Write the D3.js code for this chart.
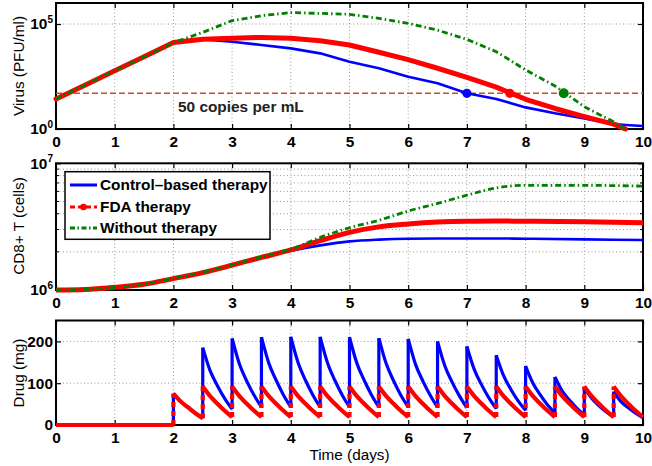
<!DOCTYPE html>
<html>
<head>
<meta charset="utf-8">
<script src="https://cdn.jsdelivr.net/npm/d3@7"></script>
<style>
  body { margin: 0; background: #fff; }
  svg { display: block; }
</style>
</head>
<body>
<div id="chart"></div>
<script>
// ---- virus load (PFU/ml) ----
const virusDays = [0, 0.5, 1, 1.5, 2, 2.5, 3, 3.5, 4, 4.5, 5, 5.5, 6, 6.5, 7, 7.5, 8, 8.5, 9, 9.5, 9.7, 10];
const virusControl = [27, 126, 590, 2750, 1.3e4, 1.86e4, 1.44e4, 1.0e4, 6.9e3, 4.0e3, 1.6e3, 780, 310, 150, 50, 27, 10.7, 5.6, 3.2, 1.7, 1.55, 1.4];
const virusFDA = [27, 126, 590, 2750, 1.3e4, 1.9e4, 2.1e4, 2.3e4, 2.1e4, 1.6e4, 1.0e4, 4.5e3, 2.0e3, 780, 290, 98, 26, 9.5, 3.9, 1.7, 1.0, null];
const virusNone = [27, 126, 590, 2750, 1.3e4, 4.0e4, 1.45e5, 2.5e5, 3.5e5, 3.2e5, 2.9e5, 1.86e5, 1.07e5, 5.1e4, 1.86e4, 4.8e3, 650, 112, 11.5, 2.2, 1.0, null];
const detectionLimit = 50;
const crossDays = [7.0, 7.73, 8.65]; // control, FDA, without

// ---- CD8+ T cells (millions) ----
const cd8Days = [0, 0.5, 1, 1.5, 2, 2.5, 3, 3.5, 4, 4.5, 5, 5.5, 6, 6.5, 7, 7.5, 8, 9, 10];
const cd8Control = [1.0, 1.01, 1.05, 1.11, 1.23, 1.37, 1.56, 1.8, 2.04, 2.25, 2.42, 2.5, 2.54, 2.55, 2.55, 2.55, 2.54, 2.51, 2.48];
const cd8FDA = [1.0, 1.01, 1.05, 1.11, 1.23, 1.37, 1.57, 1.81, 2.07, 2.45, 2.85, 3.15, 3.32, 3.44, 3.49, 3.5, 3.49, 3.45, 3.39];
const cd8None = [1.0, 1.01, 1.05, 1.11, 1.24, 1.38, 1.58, 1.83, 2.1, 2.6, 3.1, 3.55, 4.2, 4.82, 5.6, 6.4, 6.7, 6.7, 6.6];

// ---- drug (mg): one row per dose, sampled at the offsets below ----
const dosingDays = [2, 2.5, 3, 3.5, 4, 4.5, 5, 5.5, 6, 6.5, 7, 7.5, 8, 8.5, 9, 9.5];
const sampleOffsets = [0, 0.125, 0.25, 0.375, 0.5];
const drugControl = [
  [75, 56, 42, 28, 16],
  [185, 130, 94, 63, 38],
  [207, 146, 105, 71, 43],
  [210, 148, 107, 72, 43],
  [211, 149, 107, 72, 43],
  [211, 149, 107, 72, 43],
  [210, 148, 107, 72, 43],
  [208, 147, 106, 71, 43],
  [206, 145, 105, 71, 42],
  [200, 141, 102, 69, 41],
  [188, 133, 96, 65, 39],
  [167, 118, 85, 57, 35],
  [141, 100, 72, 48, 29],
  [115, 81, 59, 40, 24],
  [90, 64, 46, 31, 19],
  [80, 56, 41, 28, 17]
];
const drugFDA = [
  [75, 56, 42, 28, 16],
  [92, 69, 51, 34, 19],
  [92, 69, 51, 34, 19],
  [92, 69, 51, 34, 19],
  [92, 69, 51, 34, 19],
  [92, 69, 51, 34, 19],
  [92, 69, 51, 34, 19],
  [92, 69, 51, 34, 19],
  [92, 69, 51, 34, 19],
  [92, 69, 51, 34, 19],
  [92, 69, 51, 34, 19],
  [92, 69, 51, 34, 19],
  [92, 69, 51, 34, 19],
  [92, 69, 51, 34, 19],
  [92, 69, 51, 34, 19],
  [92, 69, 51, 34, 19]
];

const dayTicks = [0, 1, 2, 3, 4, 5, 6, 7, 8, 9, 10];
const legendLabels = ["Control\u2013based therapy", "FDA therapy", "Without therapy"];

const FONT = "'Liberation Sans', Arial, Helvetica, sans-serif";
const FS = 15.4;
const BLUE = "#0000ff", RED = "#ff0000", GREEN = "#007f00", BROWN = "#c4521f";

const svg = d3.select("#chart").append("svg")
  .attr("width", 652).attr("height", 466)
  .style("font-family", FONT);

const x = d3.scaleLinear().domain([0, 10]).range([56, 643]);

function panel(y, yTicks, yGrid, fmt, sup) {
  const [yb, yt] = y.range();
  const g = svg.append("g");

  // dotted grid
  const grid = g.append("g").attr("stroke", "#9a9a9a").attr("stroke-dasharray", "1,2.5").attr("stroke-width", 1);
  grid.selectAll("line.gx").data(dayTicks.slice(1, -1)).join("line")
    .attr("x1", d => x(d)).attr("x2", d => x(d)).attr("y1", yb).attr("y2", yt);
  grid.selectAll("line.gy").data(yGrid).join("line")
    .attr("x1", x(0)).attr("x2", x(10)).attr("y1", d => y(d)).attr("y2", d => y(d));

  const style = a => a.attr("font-family", FONT).attr("font-size", FS).attr("font-weight", "bold")
    .call(s => s.select(".domain").remove())
    .call(s => s.selectAll(".tick line").attr("stroke-width", 1.2));

  g.append("g").attr("transform", `translate(0,${yb})`)
    .call(d3.axisBottom(x).tickValues(dayTicks).tickSize(-5).tickPadding(7).tickFormat(d3.format("d")))
    .call(style);
  g.append("g").attr("transform", `translate(0,${yt})`)
    .call(d3.axisTop(x).tickValues(dayTicks).tickSize(-5).tickFormat(""))
    .call(style);
  const left = g.append("g").attr("transform", `translate(${x(0)},0)`)
    .call(d3.axisLeft(y).tickValues(yTicks).tickSize(-5).tickPadding(3).tickFormat(fmt))
    .call(style);
  g.append("g").attr("transform", `translate(${x(10)},0)`)
    .call(d3.axisRight(y).tickValues(yTicks).tickSize(-5).tickFormat(""))
    .call(style);

  if (sup) {
    left.selectAll(".tick text").each(function (d) {
      const t = d3.select(this).text(null);
      t.append("tspan").text("10");
      t.append("tspan").attr("font-size", 10).attr("dy", -6.5).text(Math.round(Math.log10(d)));
    });
  }

  g.append("rect")
    .attr("x", x(0)).attr("y", yt).attr("width", x(10) - x(0)).attr("height", yb - yt)
    .attr("fill", "none").attr("stroke", "#000").attr("stroke-width", 2);
  return g;
}

function yLabel(text, cy) {
  svg.append("text")
    .attr("transform", `translate(19,${cy}) rotate(-90)`)
    .attr("text-anchor", "middle").attr("dy", "0.35em")
    .attr("font-size", 15.3).text(text);
}

// ================= virus panel =================
const yV = d3.scaleLog().domain([1, 1e6]).range([129, 3]);
panel(yV, [1, 1e5], [1e5], d => d, true);
yLabel("Virus (PFU/ml)", 66);

svg.append("line")
  .attr("x1", x(0)).attr("x2", x(10)).attr("y1", yV(detectionLimit)).attr("y2", yV(detectionLimit))
  .attr("stroke", BROWN).attr("stroke-width", 1.5).attr("stroke-dasharray", "6,3");
svg.append("text").attr("x", 178).attr("y", 111.5)
  .attr("font-size", FS).attr("font-weight", "bold").attr("fill", "#222")
  .text("50 copies per mL");

const virusLine = vals => d3.line()
  .defined((d, i) => vals[i] != null)
  .x(d => x(d)).y((d, i) => yV(vals[i]))(virusDays);

svg.append("path").attr("d", virusLine(virusControl))
  .attr("fill", "none").attr("stroke", BLUE).attr("stroke-width", 2.6).attr("stroke-linejoin", "round");
svg.append("path").attr("d", virusLine(virusFDA))
  .attr("fill", "none").attr("stroke", RED).attr("stroke-width", 5)
  .attr("stroke-linecap", "round").attr("stroke-linejoin", "round");
svg.append("path").attr("d", virusLine(virusNone))
  .attr("fill", "none").attr("stroke", GREEN).attr("stroke-width", 2.8).attr("stroke-dasharray", "6,3,1.5,3");

svg.selectAll("circle.cross").data(crossDays).join("circle")
  .attr("cx", d => x(d)).attr("cy", yV(detectionLimit))
  .attr("r", (d, i) => (i === 2 ? 5 : 4.6))
  .attr("fill", (d, i) => [BLUE, RED, GREEN][i]);

// ================= CD8 panel =================
const yC = d3.scaleLog().domain([1e6, 1e7]).range([290, 163.3]);
const cd8Minor = [2e6, 3e6, 4e6, 5e6, 6e6, 7e6, 8e6, 9e6];
const gC = panel(yC, [1e6, 1e7], cd8Minor, d => d, true);
yLabel("CD8+ T (cells)", 226);

// minor ticks on the log axis
gC.selectAll("line.minl").data(cd8Minor).join("line")
  .attr("x1", x(0)).attr("x2", x(0) + 3).attr("y1", d => yC(d)).attr("y2", d => yC(d))
  .attr("stroke", "#000");
gC.selectAll("line.minr").data(cd8Minor).join("line")
  .attr("x1", x(10)).attr("x2", x(10) - 3).attr("y1", d => yC(d)).attr("y2", d => yC(d))
  .attr("stroke", "#000");

const cd8Line = vals => d3.line()
  .x(d => x(d)).y((d, i) => yC(vals[i] * 1e6))
  .curve(d3.curveMonotoneX)(cd8Days);

svg.append("path").attr("d", cd8Line(cd8Control))
  .attr("fill", "none").attr("stroke", BLUE).attr("stroke-width", 2.6);
svg.append("path").attr("d", cd8Line(cd8FDA))
  .attr("fill", "none").attr("stroke", RED).attr("stroke-width", 5);
svg.append("path").attr("d", cd8Line(cd8None))
  .attr("fill", "none").attr("stroke", GREEN).attr("stroke-width", 2.8).attr("stroke-dasharray", "6,3,1.5,3");

// legend
const lg = svg.append("g");
lg.append("rect").attr("x", 65).attr("y", 171.7).attr("width", 205).attr("height", 67.6)
  .attr("fill", "#fff").attr("stroke", "#000").attr("stroke-width", 1.5);
const rowY = [185, 207, 228];
lg.append("line").attr("x1", 70).attr("x2", 97).attr("y1", rowY[0]).attr("y2", rowY[0])
  .attr("stroke", BLUE).attr("stroke-width", 3);
lg.append("line").attr("x1", 70).attr("x2", 97).attr("y1", rowY[1]).attr("y2", rowY[1])
  .attr("stroke", RED).attr("stroke-width", 3).attr("stroke-dasharray", "5,3");
lg.append("circle").attr("cx", 83.5).attr("cy", rowY[1]).attr("r", 3.3).attr("fill", RED);
lg.append("line").attr("x1", 70).attr("x2", 97).attr("y1", rowY[2]).attr("y2", rowY[2])
  .attr("stroke", GREEN).attr("stroke-width", 3).attr("stroke-dasharray", "5,2.5,1.5,2.5");
lg.selectAll("text").data(legendLabels).join("text")
  .attr("x", 100).attr("y", (d, i) => rowY[i]).attr("dy", "0.35em")
  .attr("font-size", FS).attr("font-weight", "bold").text(d => d);

// ================= drug panel =================
const yD = d3.scaleLinear().domain([0, 250]).range([425, 320.5]);
panel(yD, [0, 100, 200], [100, 200], d3.format("d"), false);
yLabel("Drug (mg)", 373);

svg.append("text").attr("x", (x(0) + x(10)) / 2).attr("y", 460)
  .attr("text-anchor", "middle").attr("font-size", 15.3).text("Time (days)");

const straight = d3.line().x(d => x(d[0])).y(d => yD(d[1]));
const decay = d3.line().x(d => x(d[0])).y(d => yD(d[1])).curve(d3.curveMonotoneX);

function drawDrug(rows, color, width, jumpDash) {
  const g = svg.append("g").attr("fill", "none").attr("stroke", color)
    .attr("stroke-width", width).attr("stroke-linejoin", "round");
  g.append("path").attr("d", straight([[0, 0], [dosingDays[0], 0]]));
  rows.forEach((row, i) => {
    const t = dosingDays[i];
    g.append("path").attr("d", decay(sampleOffsets.map((o, j) => [t + o, row[j]])));
    const prev = i === 0 ? 0 : rows[i - 1][sampleOffsets.length - 1];
    g.append("path").attr("d", straight([[t, prev], [t, row[0]]]))
      .attr("stroke-dasharray", jumpDash);
  });
}
drawDrug(drugControl, BLUE, 3.2, null);
drawDrug(drugFDA, RED, 4.2, "5,4");
</script>
</body>
</html>
